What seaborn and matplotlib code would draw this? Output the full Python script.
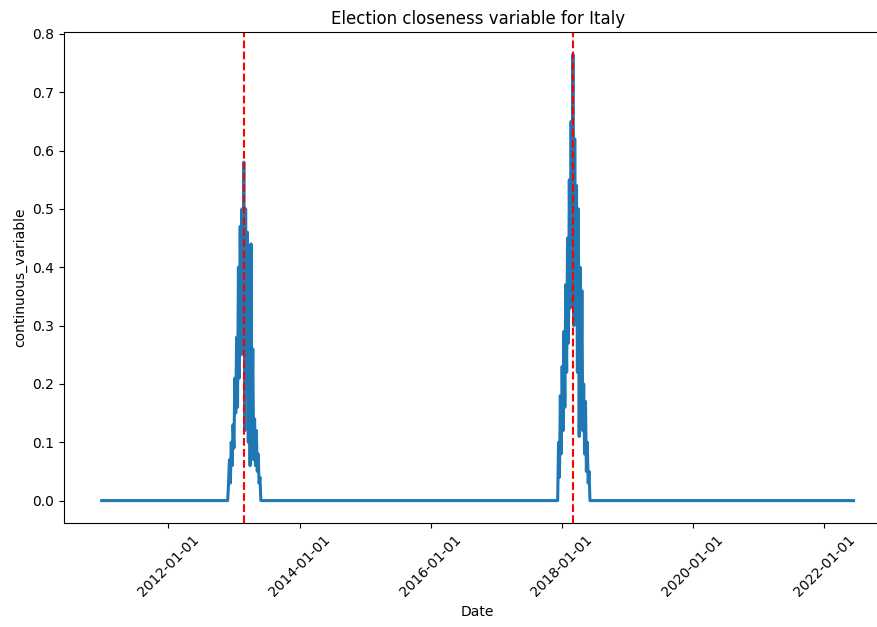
import pandas as pd
import numpy as np
import matplotlib
matplotlib.use('Agg')
import matplotlib.pyplot as plt
import matplotlib.dates as mdates
import seaborn as sns

# Series range and election dates
start_date = '2010-12-25'
end_date = '2022-06-15'
elections = ['2013-02-24', '2018-03-04']

# Values around each election (offset in days from election day)
offsets_2013 = [-90, -85, -80, -75, -70, -65, -60, -55, -50, -45, -40, -35, -30, -25,
                -20, -15, -10, -5, 0, 5, 10, 15, 20, 25, 30, 35, 40, 45, 50, 55,
                60, 65, 70, 75, 80, 85, 90, 95]
values_2013 = [0.0, 0.03, 0.07, 0.03, 0.10, 0.06, 0.13, 0.09, 0.21, 0.15, 0.28, 0.16,
               0.40, 0.21, 0.47, 0.25, 0.50, 0.30, 0.58, 0.12, 0.50, 0.20, 0.46, 0.10,
               0.38, 0.06, 0.44, 0.14, 0.26, 0.07, 0.14, 0.06, 0.12, 0.05, 0.08, 0.03,
               0.04, 0.0]

offsets_2018 = [-85, -80, -75, -70, -65, -60, -55, -50, -45, -40, -35, -30, -25, -20,
                -15, -10, -5, 0, 5, 10, 15, 20, 25, 30, 35, 40, 45, 50, 55, 60, 65,
                70, 75, 80, 85, 90, 95]
values_2018 = [0.0, 0.10, 0.04, 0.18, 0.08, 0.23, 0.12, 0.29, 0.16, 0.37, 0.22, 0.45,
               0.27, 0.55, 0.33, 0.65, 0.38, 0.765, 0.30, 0.62, 0.35, 0.54, 0.22, 0.50,
               0.11, 0.40, 0.17, 0.36, 0.12, 0.20, 0.08, 0.17, 0.05, 0.10, 0.03, 0.05,
               0.0]

# Build the dataframe
dates = [pd.Timestamp(start_date)]
vals = [0.0]
for e, offs, v in [(elections[0], offsets_2013, values_2013),
                   (elections[1], offsets_2018, values_2018)]:
    dates += [pd.Timestamp(e) + pd.Timedelta(days=o) for o in offs]
    vals += v
dates.append(pd.Timestamp(end_date))
vals.append(0.0)
df = pd.DataFrame({'Date': dates, 'continuous_variable': vals})

# Plot
fig, ax = plt.subplots(figsize=(8.78, 6.27), dpi=100)
sns.lineplot(data=df, x='Date', y='continuous_variable', ax=ax, linewidth=2.2)
for e in elections:
    ax.axvline(pd.Timestamp(e), color='r', linestyle='--', linewidth=1.5)

ax.xaxis.set_major_locator(mdates.YearLocator(2))
ax.xaxis.set_major_formatter(mdates.DateFormatter('%Y-%m-%d'))
plt.setp(ax.get_xticklabels(), rotation=45)
ax.set_title('Election closeness variable for Italy')
ax.set_xlabel('Date')
ax.set_ylabel('continuous_variable')

# the reference image is cropped on the right, so the axes runs past the edge
fig.subplots_adjust(left=0.073, right=1.015, top=0.949, bottom=0.166)
fig.savefig('out.png', dpi=100)
